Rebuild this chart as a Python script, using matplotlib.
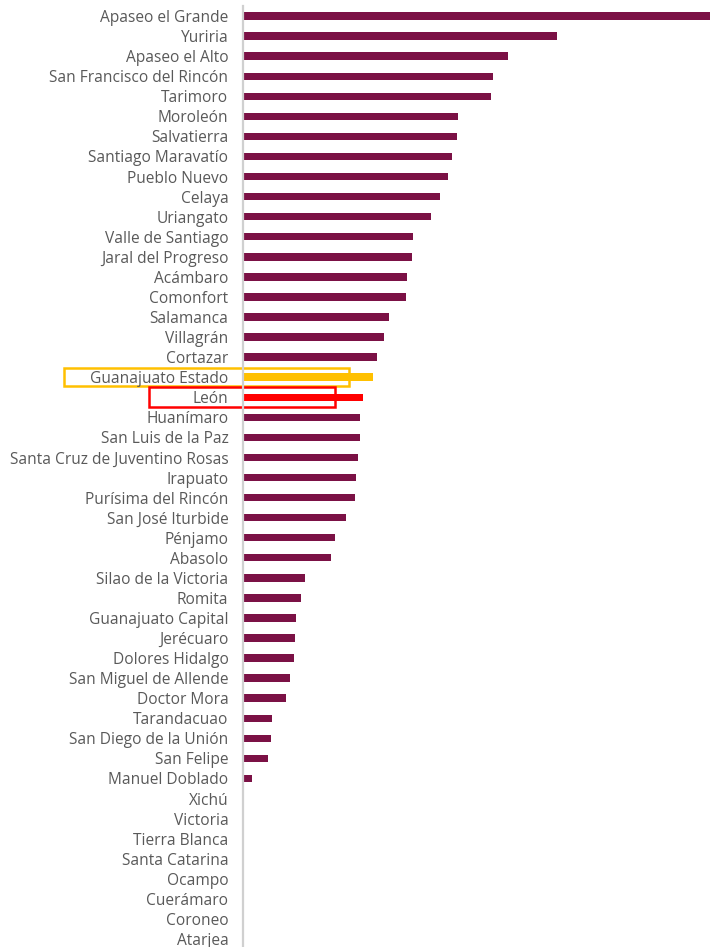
import matplotlib.pyplot as plt
from matplotlib.patches import Rectangle

municipios = [
    "Apaseo el Grande", "Yuriria", "Apaseo el Alto", "San Francisco del Rincón",
    "Tarimoro", "Moroleón", "Salvatierra", "Santiago Maravatío", "Pueblo Nuevo",
    "Celaya", "Uriangato", "Valle de Santiago", "Jaral del Progreso", "Acámbaro",
    "Comonfort", "Salamanca", "Villagrán", "Cortazar", "Guanajuato Estado", "León",
    "Huanímaro", "San Luis de la Paz", "Santa Cruz de Juventino Rosas", "Irapuato",
    "Purísima del Rincón", "San José Iturbide", "Pénjamo", "Abasolo",
    "Silao de la Victoria", "Romita", "Guanajuato Capital", "Jerécuaro",
    "Dolores Hidalgo", "San Miguel de Allende", "Doctor Mora", "Tarandacuao",
    "San Diego de la Unión", "San Felipe", "Manuel Doblado", "Xichú", "Victoria",
    "Tierra Blanca", "Santa Catarina", "Ocampo", "Cuerámaro", "Coroneo", "Atarjea",
]
valores = [
    467, 314, 265, 250, 248, 215, 214, 209, 205, 197, 188, 170, 169, 164, 163,
    146, 141, 134, 130, 120, 117, 117, 115, 113, 112, 103, 92, 88, 62, 58, 53,
    52, 51, 47, 43, 29, 28, 25, 9, 0, 0, 0, 0, 0, 0, 0, 0,
]

granate = "#7B1145"
colores = []
for m in municipios:
    if m == "Guanajuato Estado":
        colores.append("#FFC000")
    elif m == "León":
        colores.append("#FF0000")
    else:
        colores.append(granate)

fig = plt.figure(figsize=(7.1, 9.47), dpi=100)
ax = fig.add_axes([243 / 710, 0, 467 / 710, 941 / 947])

y = list(range(len(municipios)))
ax.barh(y, valores, height=0.37, color=colores)
ax.set_xlim(0, 467)
ax.set_ylim(46.4, -0.5)

ax.set_yticks(y)
ax.set_yticklabels(municipios, fontsize=11.2, color="#595959", family="Open Sans")
ax.tick_params(axis="y", length=0, pad=10.5)
ax.set_xticks([])
for s in ["top", "right", "bottom"]:
    ax.spines[s].set_visible(False)
ax.spines["left"].set_color("#d0d0d0")
ax.spines["left"].set_linewidth(1.6)

# recuadros de resaltado
ax.add_patch(Rectangle((-179, 18 - 0.45), 285, 0.9, fill=False, ec="#FFC000", lw=1.8, clip_on=False))
ax.add_patch(Rectangle((-94, 19 - 0.5), 186, 1.0, fill=False, ec="#FF0000", lw=1.8, clip_on=False))

fig.savefig("out.png", dpi=100)
